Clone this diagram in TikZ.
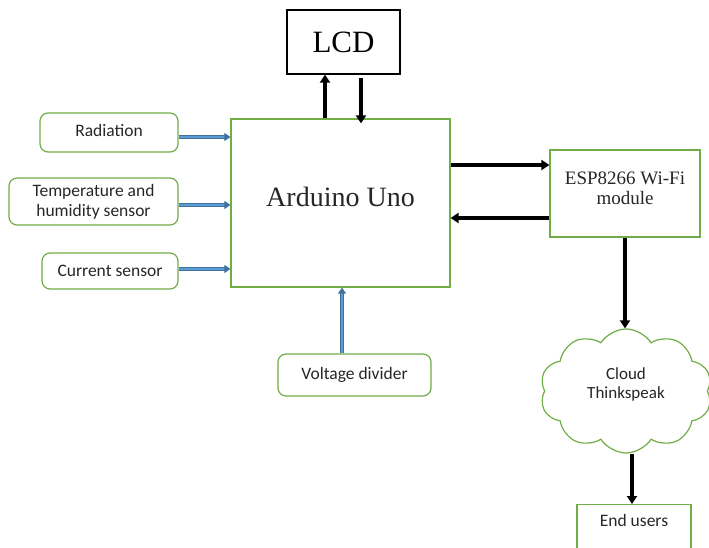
\documentclass[tikz,border=0pt]{standalone}
\usepackage{fontspec}
\setmainfont{Liberation Serif}
\newfontfamily\calfont{Carlito}
\usetikzlibrary{arrows.meta,shapes.symbols}
\definecolor{grn}{HTML}{70AD47}
\definecolor{bluedark}{HTML}{41719C}
\definecolor{bluelight}{HTML}{5B9BD5}
\definecolor{txt}{HTML}{262626}
\newcommand{\twolines}[2]{\begin{tabular}{@{}c@{}}#1\\#2\end{tabular}}
\newcommand{\liftup}[2]{\raisebox{0pt}[\height][\dimexpr\depth+#1\relax]{#2}}
\tikzset{
  sbox/.style={draw=grn, line width=1.2pt, rounded corners=8pt, font=\calfont\fontsize{17.5}{20}\selectfont, text=txt, align=center, inner sep=0pt},
  gbox/.style={draw=grn, line width=1.2pt, align=center, inner sep=0pt, text=txt},
  blk/.style={line width=4pt, -{Triangle[length=8pt,width=10pt]}},
  blu/.style={draw=bluedark, double=bluelight, double distance=2pt, line width=1pt, -{Triangle[length=6pt,width=8pt]}},
}
\begin{document}
\begin{tikzpicture}[x=1pt,y=-1pt]
\useasboundingbox (0,0) rectangle (709,548);
\node[draw=black, line width=1.2pt, minimum width=113pt, minimum height=64pt, inner sep=0pt, font=\fontsize{31}{34}\selectfont] (lcd) at (343.5,42) {LCD};
\node[gbox, minimum width=219pt, minimum height=168pt, font=\fontsize{28}{32}\selectfont] (ard) at (340.5,203) {\liftup{13pt}{Arduino Uno}};
\node[sbox, minimum width=138pt, minimum height=39pt] (rad) at (109,132.5) {\liftup{4pt}{Radiation}};
\node[sbox, minimum width=169pt, minimum height=47pt] (temp) at (93.5,201.5) {Temperature and\\humidity sensor};
\node[sbox, minimum width=136pt, minimum height=36pt] (cur) at (110,271) {Current sensor};
\node[sbox, minimum width=153pt, minimum height=42pt] (vd) at (354.5,375) {Voltage divider};
\node[gbox, minimum width=150pt, minimum height=87pt, font=\fontsize{19}{20}\selectfont] (esp) at (625,193.5) {\liftup{6pt}{\twolines{ESP8266 Wi-Fi}{module}}};
\node[cloud, draw=grn, line width=1.2pt, cloud puffs=10, cloud puff arc=115, aspect=1.35, minimum width=172pt, minimum height=124pt, inner sep=0pt, align=center, text=txt, font=\calfont\fontsize{17}{19}\selectfont] (cloud) at (626,391) {\liftup{12pt}{\twolines{Cloud}{Thinkspeak}}};
\node[gbox, minimum width=114pt, minimum height=60pt, anchor=north,
  label={[anchor=north, yshift=-7pt, text=txt, font=\calfont\fontsize{17.5}{20}\selectfont]north:End users}] (end) at (634,504) {};
% LCD arrows
\draw[blk] (ard.north -| 325,0) -- (lcd.south -| 325,0);
\draw[blk, shorten >=-5pt] (361,78) -- (ard.north -| 361,0);
% blue inputs
\draw[blu] (rad.east |- 0,137) -- (ard.west |- 0,137);
\draw[blu] (temp.east |- 0,205) -- (ard.west |- 0,205);
\draw[blu] (cur.east |- 0,269) -- (ard.west |- 0,269);
\draw[blu] (vd.north -| 342,0) -- (ard.south -| 342,0);
% ESP
\draw[blk] (ard.east |- 0,165) -- (esp.west |- 0,165);
\draw[blk] (esp.west |- 0,218) -- (ard.east |- 0,218);
\draw[blk] (esp.south -| 625,0) -- (cloud.north -| 625,0);
\draw[blk] (cloud.south -| 632,0) -- (end.north -| 632,0);
\end{tikzpicture}
\end{document}
